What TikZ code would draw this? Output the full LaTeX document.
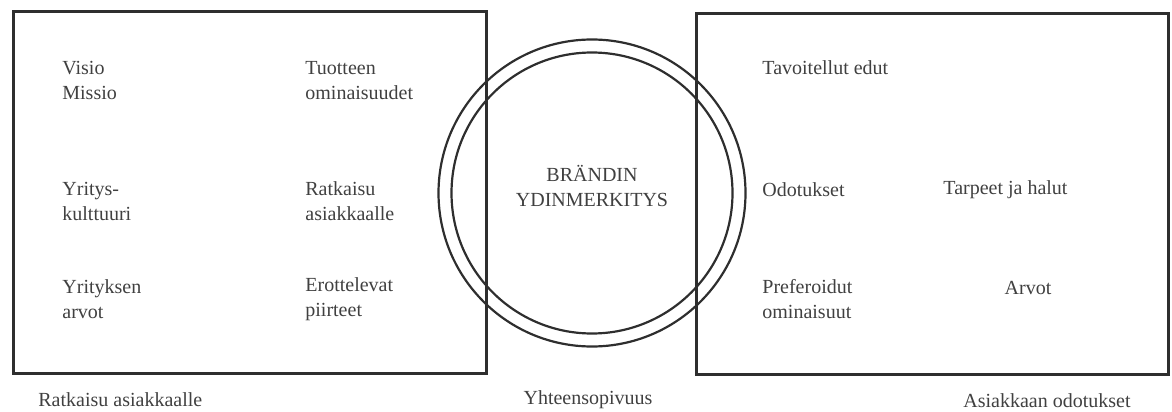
\documentclass[tikz,border=0pt]{standalone}
\usepackage{fontspec}
\setmainfont{Liberation Serif}
\newfontfamily\diagfont{Liberation Serif}
\usetikzlibrary{positioning}
\definecolor{inkgray}{gray}{0.18}
\definecolor{txtgray}{gray}{0.25}
\tikzset{
  framebox/.style={draw=inkgray, line width=1.3pt, rectangle, inner sep=0pt,
                   anchor=north west},
  ringline/.style={draw=inkgray, line width=1.1pt, circle, inner sep=0pt},
  itemtext/.style={font=\diagfont\fontsize{10}{12.5}\selectfont, text=txtgray,
                   align=left, inner sep=0pt, anchor=west},
  captext/.style={font=\diagfont\fontsize{10}{12.5}\selectfont, text=txtgray,
                  inner sep=0pt}
}

\begin{document}
\begin{tikzpicture}[x=0.5pt, y=-0.5pt]
  \useasboundingbox (0,0) rectangle (1172,412);

  % two frames
  \node[framebox, minimum width=236.5pt, minimum height=181pt] (company) at (12,10) {};
  \node[framebox, minimum width=236pt, minimum height=180.5pt] (customer) at (695,12) {};

  % rings in the middle
  \node[ringline, minimum size=153.5pt] (outerring) at (592,193) {};
  \node[ringline, minimum size=140.5pt] (innerring) at (outerring.center) {};
  \node[captext, align=center] (core) at (592,186) {BRÄNDIN\\YDINMERKITYS};

  % left frame
  \node[itemtext] (vision) at (62,80.5) {Visio\\Missio};
  \node[itemtext] (culture) at (62,201.5) {Yritys-\\kulttuuri};
  \node[itemtext] (values) at (62,299.5) {Yrityksen\\arvot};
  \node[itemtext] (features) at (305,80.5) {Tuotteen\\ominaisuudet};
  \node[itemtext] (solution) at (305,201.5) {Ratkaisu\\asiakkaalle};
  \node[itemtext] (distinct) at (305,299.5) {Erottelevat\\piirteet};

  % right frame
  \node[itemtext] (benefits) at (762,68) {Tavoitellut edut};
  \node[itemtext] (expect) at (762,190) {Odotukset};
  \node[itemtext] (needs) at (943,190) {Tarpeet ja halut};
  \node[itemtext] (prefer) at (762,299.5) {Preferoidut\\ominaisuut};
  \node[captext] (custvalues) at (1028,288) {Arvot};

  % captions
  \node[captext, anchor=west] (leftcap) at (38,400) {Ratkaisu asiakkaalle};
  \node[captext] (midcap) at (588,400) {Yhteensopivuus};
  \node[captext] (rightcap) at (1047,401) {Asiakkaan odotukset};
\end{tikzpicture}
\end{document}
